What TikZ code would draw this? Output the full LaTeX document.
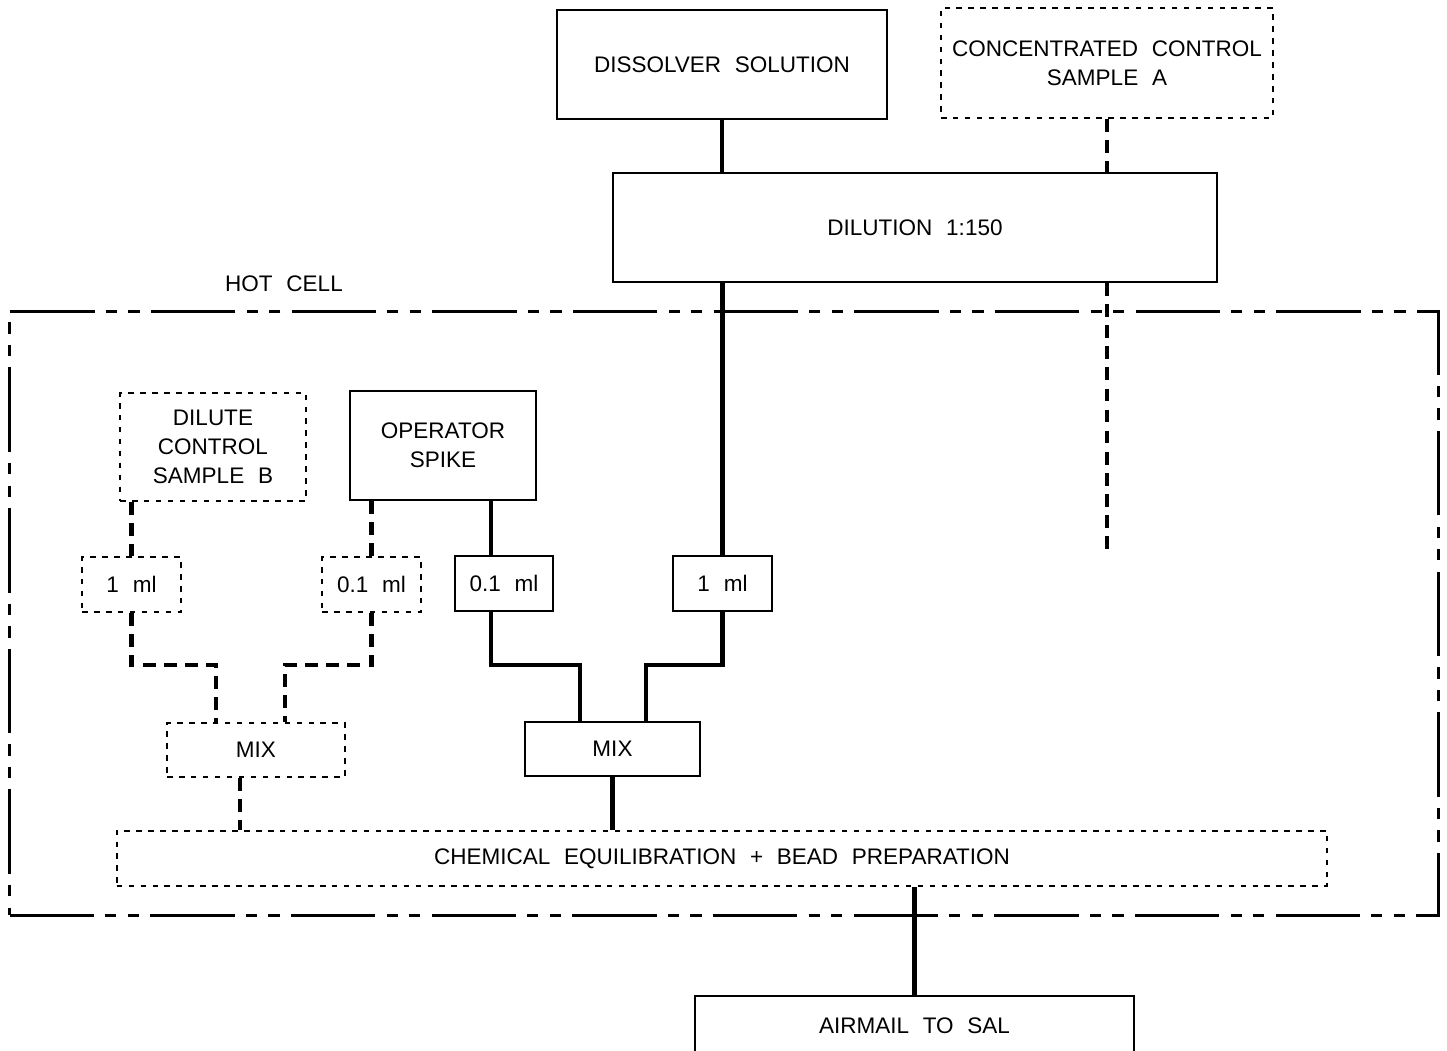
\documentclass[tikz,border=0pt]{standalone}
\usepackage{fontspec}
\setmainfont{Liberation Sans}[WordSpace=2.2]
\tikzset{every node/.append style={font=\fontsize{6.4}{8.3}\selectfont}}
\tikzset{
  box/.style={draw, line width=0.6pt, inner sep=0pt, align=center},
  dbox/.style={box, dash pattern=on 1.6pt off 1.8pt},
  flow/.style={line width=1.4pt},
  dflow/.style={line width=1.4pt, dash pattern=on 3.6pt off 2.4pt},
  hotcell/.style={draw, line width=0.8pt, dash pattern=on 24pt off 3.2pt on 3.2pt off 3.2pt on 3.2pt off 3.2pt}
}

\begin{document}
\begin{tikzpicture}[x=0.01cm, y=-0.01cm]
    \useasboundingbox (0,0) rectangle (1447,1051);

    \node[hotcell, minimum width=14.28cm, minimum height=6.03cm] (hot) at (724,613.5) {};
    \node (hotlabel) at (284,284) {HOT CELL};

    \node[box, minimum width=3.3cm, minimum height=1.09cm] (dis) at (722,64.5) {DISSOLVER SOLUTION};
    \node[dbox, minimum width=3.32cm, minimum height=1.1cm] (concA) at (1107,63) {CONCENTRATED CONTROL\\SAMPLE A};
    \node[box, minimum width=6.04cm, minimum height=1.09cm] (dil) at (915,227.5) {DILUTION 1:150};

    \node[dbox, minimum width=1.86cm, minimum height=1.08cm] (dilB) at (213,447) {DILUTE\\CONTROL\\SAMPLE B};
    \node[box, minimum width=1.86cm, minimum height=1.09cm] (spike) at (443,445.5) {OPERATOR\\SPIKE};

    \node[dbox, minimum width=0.99cm, minimum height=0.55cm] (mlBd) at (131.5,584.5) {1 ml};
    \node[dbox, minimum width=0.99cm, minimum height=0.55cm] (mlSd) at (371.5,584.5) {0.1 ml};
    \node[box, minimum width=0.98cm, minimum height=0.55cm] (mlS) at (504,583.5) {0.1 ml};
    \node[box, minimum width=0.99cm, minimum height=0.55cm] (mlD) at (722.5,583.5) {1 ml};

    \node[dbox, minimum width=1.78cm, minimum height=0.54cm] (mixd) at (256,750) {MIX};
    \node[box, minimum width=1.75cm, minimum height=0.54cm] (mix) at (612.5,749) {MIX};

    \node[dbox, minimum width=12.1cm, minimum height=0.55cm] (chem) at (722,858.5) {CHEMICAL EQUILIBRATION + BEAD PREPARATION};
    \node[box, minimum width=4.39cm, minimum height=0.6cm] (air) at (914.5,1026) {AIRMAIL TO SAL};

    % bend points
    \coordinate (endA) at (1107,553);
    \coordinate (kB) at (216,665);
    \coordinate (kSd) at (285,665);
    \coordinate (kS) at (491,665);
    \coordinate (kSm) at (580,665);
    \coordinate (kDm) at (646,665);
    \coordinate (kmix) at (240,800);

    % sample lines
    \draw[flow] (dis.south) -- (dis.south |- dil.north);
    \draw[dflow] (concA.south) -- (concA.south |- dil.north);
    \draw[dflow] (endA |- dil.south) -- (endA);
    \draw[flow] (mlD.north |- dil.south) -- (mlD.north);
    \draw[flow] (kS |- spike.south) -- (kS |- mlS.north);
    \draw[dflow] (mlSd.north |- spike.south) -- (mlSd.north);
    \draw[dflow] (mlBd.north |- dilB.south) -- (mlBd.north);

    \draw[dflow] (mlBd.south) |- (kB) -- (kB |- mixd.north);
    \draw[dflow] (mlSd.south) |- (kSd) -- (kSd |- mixd.north);
    \draw[flow] (kS |- mlS.south) -- (kS) -- (kSm) -- (kSm |- mix.north);
    \draw[flow] (mlD.south) |- (kDm) -- (kDm |- mix.north);

    \draw[dflow] (kmix |- mixd.south) -- (kmix |- chem.north);
    \draw[flow] (mix.south) -- (mix.south |- chem.north);
    \draw[flow] (air.north |- chem.south) -- (air.north);

\end{tikzpicture}
\end{document}
